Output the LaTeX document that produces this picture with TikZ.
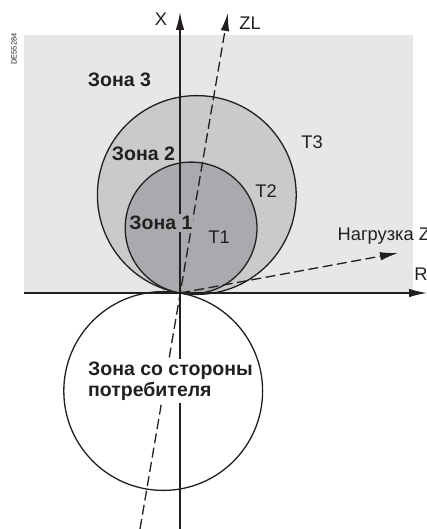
\documentclass[tikz,border=0pt]{standalone}
\usepackage{fontspec}
\setmainfont{Liberation Sans}
\usetikzlibrary{arrows.meta}
\definecolor{bgA}{RGB}{230,231,231}
\definecolor{bgB}{RGB}{201,202,203}
\definecolor{bgC}{RGB}{169,170,173}
\definecolor{ink}{RGB}{35,31,32}
\begin{document}
\begin{tikzpicture}[x=1pt,y=-1pt, line width=1.3pt, draw=ink,
  tip/.style={-{Latex[length=18pt,width=8.5pt]}},
  axis/.style={line width=1.3pt, draw=ink, tip},
  dashline/.style={line width=1.3pt, draw=ink, dash pattern=on 10pt off 4.5pt, tip},
  ring/.style={line width=1.3pt, draw=ink},
  zone/.style={font=\fontsize{19.5}{21.5}\selectfont\bfseries, text=ink, inner xsep=0pt, inner ysep=2pt},
  lbl/.style={font=\fontsize{18.3}{20}\selectfont, text=ink, inner sep=0pt}]
\useasboundingbox (0,0) rectangle (427,529);
\clip (0,0) rectangle (427,529);
% background zone 3
\fill[bgA] (24,35) rectangle (413,293);
% circles
\coordinate (O) at (180,293);
\coordinate (c3) at (196.8,195);
\coordinate (c1) at (191.1,228);
\coordinate (cL) at (163.2,391);
\draw[ring, fill=bgB] (c3) circle[radius=99.4pt];
\draw[ring, fill=bgC] (c1) circle[radius=65.9pt];
\draw[ring] (cL) circle[radius=99.4pt];
% axes
\coordinate (Xb) at (180,529);
\coordinate (Xt) at (180,12);
\coordinate (Rl) at (24,293);
\coordinate (Rr) at (427,293);
\draw[axis] (Xb) -- (Xt);
\draw[axis] (Rl) -- (Rr);
% dashed lines
\coordinate (ZLb) at (140,529);
\coordinate (ZLt) at (228,13);
\coordinate (Zt) at (398,253);
\draw[dashline] (ZLb) -- (ZLt);
\draw[dashline] (O) -- (Zt);
% labels
\node[lbl] (lX) at (161,19) {X};
\node[lbl] (lZL) at (250,23) {ZL};
\node[lbl] (lR) at (421,274) {R};
\node[lbl] (lT3) at (312,142) {T3};
\node[lbl] (lT2) at (266,191) {T2};
\node[lbl] (lT1) at (219,237) {T1};
\node[lbl, anchor=west] (lZ) at (337,236) {Нагрузка Z};
\node[zone] (z3) at (119.5,80) {Зона 3};
\node[zone] (z2) at (143.5,154) {Зона 2};
\node[zone, fill=bgC] (z1) at (161,223) {Зона 1};
\node[zone, fill=white, align=left, anchor=west] (zc) at (87.5,381) {Зона со стороны\\потребителя};
\node[rotate=90, font=\fontsize{7.5}{8}\selectfont, text=ink, inner sep=0pt] (code) at (14,49) {DE55284};
\end{tikzpicture}
\end{document}
